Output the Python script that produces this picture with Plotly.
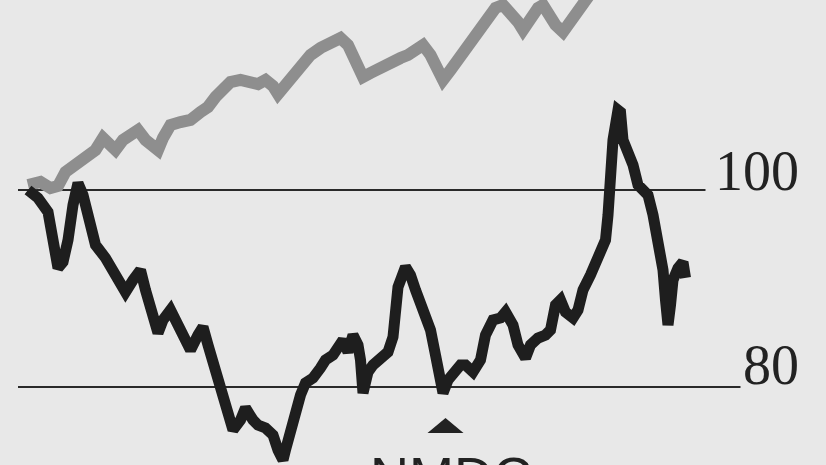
import plotly.graph_objects as go

# NMDC (black) — trading-day index and rebased value
nmdc_day = [0, 4, 8, 10, 12, 14, 16, 18, 20, 22, 25, 27, 31, 34, 37, 39, 42, 45, 47, 50,
            52, 54, 57, 60, 62, 65, 68, 70, 72, 74, 77, 79, 82, 85, 87, 90, 92, 95, 98, 100,
            102, 103, 105, 107, 109, 111, 114, 117, 119, 122, 124, 126, 128, 130, 132, 133, 134, 136, 138, 141,
            144, 146, 147, 148, 151, 153, 155, 158, 161, 163, 164, 166, 168, 171, 173, 175, 178, 181, 183, 186,
            189, 191, 194, 196, 199, 201, 204, 207, 209, 211, 213, 215, 218, 220, 222, 225, 227, 229, 231, 232,
            233, 234, 236, 237, 238, 240, 242, 244, 246, 248, 250, 251, 253, 254, 255, 256, 257, 258, 260, 262, 263]
nmdc_val = [100.0, 99.19, 97.77, 93.91, 92.08, 92.69, 94.92, 98.48, 100.71, 99.49, 95.94, 94.42, 93.10, 91.68, 90.36, 89.64, 90.86, 91.88, 89.85, 87.31,
            85.48, 86.80, 87.82, 86.29, 84.97, 83.76, 85.28, 86.09, 84.26, 82.44, 79.70, 77.66, 75.63, 76.65, 77.87, 76.65, 76.14, 75.84, 75.13, 73.60,
            72.59, 73.60, 75.63, 77.66, 79.19, 80.41, 80.91, 81.93, 82.74, 83.25, 84.26, 84.77, 83.55, 85.28, 84.26, 82.74, 79.39, 81.52, 82.23, 82.74,
            83.55, 85.08, 88.12, 90.15, 92.18, 91.37, 89.85, 87.82, 85.79, 83.25, 81.22, 79.39, 80.71, 81.52, 82.23, 82.23, 81.52, 82.74, 85.28, 86.80,
            87.01, 87.61, 86.29, 84.26, 82.94, 84.26, 84.97, 85.28, 85.79, 88.32, 88.83, 87.61, 87.01, 87.82, 89.85, 91.37, 92.39, 93.40, 94.92, 97.46,
            101.02, 105.08, 108.12, 107.92, 105.08, 104.06, 102.54, 100.51, 100.0, 99.49, 97.46, 96.14, 94.42, 91.88, 88.83, 86.29, 88.32, 90.86, 92.08, 92.69, 91.07]

# Benchmark index (grey)
index_day = [0, 5, 9, 12, 15, 20, 24, 27, 30, 33, 35, 38, 41, 44, 47, 50, 52, 54, 57, 61,
             65, 69, 72, 75, 78, 81, 85, 89, 92, 95, 98, 100, 103, 106, 109, 113, 117, 121, 125, 128,
             130, 132, 134, 137, 141, 145, 149, 152, 155, 158, 161, 164, 166, 169, 172, 175, 178, 181, 184, 187,
             190, 193, 196, 198, 201, 204, 206, 208, 211, 214, 216, 218, 221, 223, 226]
index_val = [100.5, 100.81, 100.20, 100.41, 101.83, 102.74, 103.55, 104.06, 105.28, 104.57, 104.06, 105.08, 105.79, 106.09, 105.08, 104.37, 104.06, 105.28, 106.60, 106.90,
             107.11, 107.92, 108.43, 109.44, 110.36, 110.96, 111.17, 110.86, 110.76, 111.17, 110.56, 109.75, 110.66, 111.37, 112.18, 113.71, 114.42, 114.92, 115.43, 114.72,
             113.50, 112.39, 111.47, 111.88, 112.49, 112.89, 113.40, 113.71, 114.21, 114.72, 113.71, 112.18, 111.17, 112.18, 113.20, 114.01, 115.23, 116.04, 117.46, 118.48,
             118.78, 118.07, 117.06, 116.24, 117.46, 118.48, 118.78, 117.77, 116.75, 116.04, 116.75, 117.77, 118.48, 119.29, 120.30]

ref_levels = [100, 80]
ref_labels = ["100", "80"]
marker_day = 167
marker_label = "NMDC"

fig = go.Figure()
fig.add_trace(go.Scatter(x=index_day, y=index_val, mode="lines",
                         line=dict(color="#8e8e8e", width=12), hoverinfo="skip"))
fig.add_trace(go.Scatter(x=nmdc_day, y=nmdc_val, mode="lines",
                         line=dict(color="#1e1e1e", width=11), hoverinfo="skip"))

# reference lines
line_ends = [271, 285]
for lvl, xe in zip(ref_levels, line_ends):
    fig.add_shape(type="line", x0=-4, x1=xe, y0=lvl, y1=lvl, layer="below",
                  line=dict(color="#2a2a2a", width=2))

label_y = [101.9, 82.2]
for txt, ly in zip(ref_labels, label_y):
    fig.add_annotation(x=309, y=ly, text=txt, showarrow=False, xanchor="right", yanchor="middle",
                       font=dict(family="Liberation Serif", size=56, color="#222222"))

# triangle marker
fig.add_shape(type="path", xsizemode="pixel", ysizemode="pixel", xanchor=marker_day, yanchor=76.1,
              path="M -18 -7.5 L 18 -7.5 L 0 7.5 Z", fillcolor="#222222", line=dict(width=0))
fig.add_annotation(x=marker_day + 2, y=74.2, text=marker_label, showarrow=False, xanchor="center", yanchor="top",
                   font=dict(family="Liberation Sans", size=54, color="#222222"))

fig.update_layout(width=826, height=465, margin=dict(l=0, r=0, t=0, b=0),
                  paper_bgcolor="#e8e8e8", plot_bgcolor="#e8e8e8", showlegend=False,
                  hovermode=False)
fig.update_xaxes(range=[-11.2, 319.2], visible=False, showgrid=False, zeroline=False)
fig.update_yaxes(range=[72.08, 119.29], visible=False, showgrid=False, zeroline=False)

fig.write_html("out.html", config={"displayModeBar": False},
               post_script="document.body.style.margin='0';document.body.style.background='#e8e8e8';")
